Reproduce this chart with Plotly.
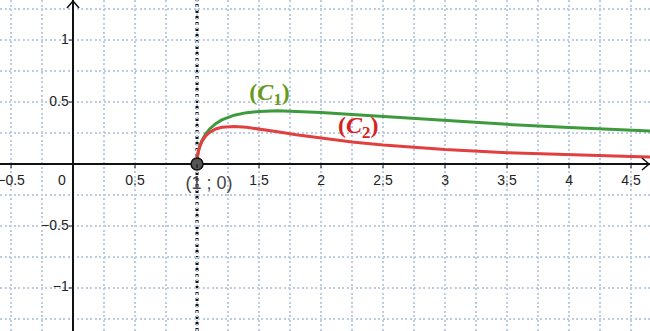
import plotly.graph_objects as go

# Curve samples
x_vals = [1.0, 1.001, 1.005, 1.01, 1.02, 1.04, 1.07, 1.1, 1.15, 1.2, 1.3, 1.4, 1.5,
          1.65, 1.8, 2.0, 2.25, 2.5, 2.75, 3.0, 3.5, 4.0, 4.5, 4.7]
c1_vals = [0.0, 0.0316, 0.0703, 0.0988, 0.1380, 0.1904, 0.2431, 0.2807, 0.3251, 0.3558,
           0.3940, 0.4143, 0.4245, 0.4289, 0.4259, 0.4163, 0.4002, 0.3829, 0.3657,
           0.3494, 0.3198, 0.2944, 0.2725, 0.2647]
c2_vals = [0.0, 0.0316, 0.0699, 0.0978, 0.1353, 0.1831, 0.2272, 0.2551, 0.2827, 0.2965,
           0.3031, 0.2960, 0.2830, 0.2599, 0.2366, 0.2081, 0.1779, 0.1532, 0.1330,
           0.1165, 0.0914, 0.0736, 0.0606, 0.0563]

x_tick_pos = [-0.5, 0.5, 1.5, 2, 2.5, 3, 3.5, 4, 4.5]
x_tick_text = ["\u22120.5", "0.5", "1.5", "2", "2.5", "3", "3.5", "4", "4.5"]
x_tick_marks = [-0.5, 0.5, 1, 1.5, 2, 2.5, 3, 3.5, 4, 4.5]
y_tick_pos = [1, 0.5, -0.5, -1]
y_tick_text = ["1", "0.5", "\u22120.5", "\u22121"]

point_x = [1]
point_y = [0]
point_label = "(1 ; 0)"

X_RANGE = [-0.589, 4.653]
Y_RANGE = [-1.347, 1.323]

GREEN = "#3d9a3d"
RED = "#e04040"

fig = go.Figure()

fig.add_trace(go.Scatter(x=x_vals, y=c1_vals, mode="lines",
                         line=dict(color=GREEN, width=3), hoverinfo="skip"))
fig.add_trace(go.Scatter(x=x_vals, y=c2_vals, mode="lines",
                         line=dict(color=RED, width=3), hoverinfo="skip"))

tick_font = dict(family="Liberation Sans, Arial", size=14, color="#222")
# tick labels
fig.add_trace(go.Scatter(x=x_tick_pos, y=[-0.137] * len(x_tick_pos), mode="text",
                         text=x_tick_text, textposition="middle center",
                         textfont=tick_font, hoverinfo="skip"))
fig.add_trace(go.Scatter(x=[-0.035] * len(y_tick_pos), y=y_tick_pos, mode="text",
                         text=y_tick_text, textposition="middle left",
                         textfont=tick_font, hoverinfo="skip"))
fig.add_trace(go.Scatter(x=[-0.09], y=[-0.137], mode="text", text=["0"],
                         textposition="middle center",
                         textfont=tick_font, hoverinfo="skip"))

# point
fig.add_trace(go.Scatter(x=point_x, y=point_y, mode="markers",
                         marker=dict(size=12, color="#555555", line=dict(color="#111", width=1.5)),
                         hoverinfo="skip"))
fig.add_trace(go.Scatter(x=[point_x[0] + 0.097], y=[point_y[0] - 0.163], mode="text",
                         text=[point_label], textposition="middle center",
                         textfont=dict(family="Liberation Sans, Arial", size=18, color="#444"),
                         hoverinfo="skip"))

# curve labels
fig.add_trace(go.Scatter(x=[1.585], y=[0.565], mode="text",
                         text=["<b>(<i>C</i><sub>1</sub>)</b>"], textposition="middle center",
                         textfont=dict(family="Liberation Serif, DejaVu Serif", size=24, color="#669a1a"),
                         hoverinfo="skip"))
fig.add_trace(go.Scatter(x=[2.30], y=[0.30], mode="text",
                         text=["<b>(<i>C</i><sub>2</sub>)</b>"], textposition="middle center",
                         textfont=dict(family="Liberation Serif, DejaVu Serif", size=24, color="#d42222"),
                         hoverinfo="skip"))

shapes = []
# vertical dotted line x = 1
shapes.append(dict(type="line", xref="x", yref="paper", x0=1, x1=1, y0=0, y1=1,
                   line=dict(color="#111", width=3, dash="dot"), layer="below"))
# tick marks
for t in x_tick_marks:
    shapes.append(dict(type="line", xref="x", yref="y", ysizemode="pixel", yanchor=0,
                       x0=t, x1=t, y0=0, y1=-4, line=dict(color="#111", width=1)))
for t in y_tick_pos:
    shapes.append(dict(type="line", xref="x", yref="y", xsizemode="pixel", xanchor=0,
                       y0=t, y1=t, x0=0, x1=-4, line=dict(color="#111", width=1)))
# axis arrows
shapes.append(dict(type="path", xref="x", yref="y", xsizemode="pixel", ysizemode="pixel",
                   xanchor=X_RANGE[1], yanchor=0, path="M -8,6 L -1,0 L -8,-6",
                   line=dict(color="#111", width=1.5)))
shapes.append(dict(type="path", xref="x", yref="y", xsizemode="pixel", ysizemode="pixel",
                   xanchor=0, yanchor=Y_RANGE[1], path="M -6,-8 L 0,-1 L 6,-8",
                   line=dict(color="#111", width=1.5)))

grid_common = dict(dtick=0.25, tick0=0, showgrid=True, gridcolor="#bfcde0",
                   griddash="2px,2.5px", gridwidth=1.5, showticklabels=False, ticks="",
                   zeroline=True, zerolinecolor="#111", zerolinewidth=1.5, showline=False,
                   fixedrange=True)

fig.update_layout(
    width=650, height=331, margin=dict(l=0, r=0, t=0, b=0),
    paper_bgcolor="white", plot_bgcolor="white", showlegend=False,
    shapes=shapes,
    xaxis=dict(range=X_RANGE, **grid_common),
    yaxis=dict(range=Y_RANGE, **grid_common),
)

fig.write_html("out.html")
